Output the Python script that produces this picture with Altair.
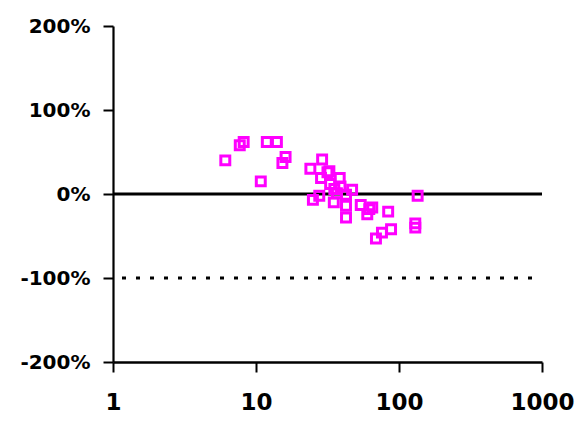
import altair as alt
import pandas as pd

# Data
x_vals = [6.1, 7.7, 8.2, 10.8, 11.9, 14.0, 15.3, 16.1, 24, 29, 31.6, 28.5, 32.6,
          38.5, 33, 35.3, 47, 39, 25, 27.7, 35, 36.8, 42.6, 42.6, 42.6, 54, 65,
          60, 84, 135, 130, 130, 88, 76, 69, 62]
y_vals = [40, 58, 62, 15, 62, 62, 37, 44, 30, 41, 26, 19, 27,
          19, 12, 6, 5, 9, -7, -2, -10, 1, -1, -14, -28, -13, -16,
          -24, -21, -2, -35, -40, -42, -46, -53, -18]
x_ticks = [1, 10, 100, 1000]
y_ticks = [-200, -100, 0, 100, 200]
zero_line = [0]
ref_line = [-100]

pts = pd.DataFrame({"x": x_vals, "y": y_vals})

xscale = alt.Scale(type="log", domain=[1, 1000], nice=False)
yscale = alt.Scale(domain=[-200, 200], nice=False, zero=False)

xaxis = alt.Axis(values=x_ticks, format="d", title=None, grid=False,
                 domainColor="black", domainWidth=2.5, tickColor="black",
                 tickWidth=2, tickSize=10, labelFont="DejaVu Sans",
                 labelFontWeight="bold", labelFontSize=23, labelColor="black",
                 labelPadding=19, labelFlush=False, labelOverlap=False)
yaxis = alt.Axis(values=y_ticks, labelExpr="datum.value + '%'", title=None,
                 grid=False, domainColor="black", domainWidth=2.2,
                 tickColor="black", tickWidth=2, tickSize=10,
                 labelFont="DejaVu Sans", labelFontWeight="bold",
                 labelFontSize=20, labelColor="black", labelPadding=13,
                 labelFlush=False, labelOverlap=False)

base_pts = alt.Chart(pts).mark_point(
    shape="square", filled=False, color="#FF00FF", strokeWidth=3,
    size=80, opacity=1
).encode(
    x=alt.X("x:Q", scale=xscale, axis=xaxis),
    y=alt.Y("y:Q", scale=yscale, axis=yaxis),
)

zero = alt.Chart(pd.DataFrame({"y": zero_line})).mark_rule(
    color="black", strokeWidth=3
).encode(y=alt.Y("y:Q", scale=yscale))

ref = alt.Chart(pd.DataFrame({"y": ref_line})).mark_rule(
    color="black", strokeWidth=3, strokeDash=[4, 10], strokeDashOffset=4
).encode(y=alt.Y("y:Q", scale=yscale))

chart = alt.layer(zero, ref, base_pts).properties(
    width=429, height=336,
    background="white",
    autosize=alt.AutoSizeParams(type="none"),
    padding={"left": 113, "top": 26, "right": 36, "bottom": 64},
).configure_view(stroke=None, strokeWidth=0)

chart.save("out.html", embed_options={"renderer": "svg", "actions": False})
